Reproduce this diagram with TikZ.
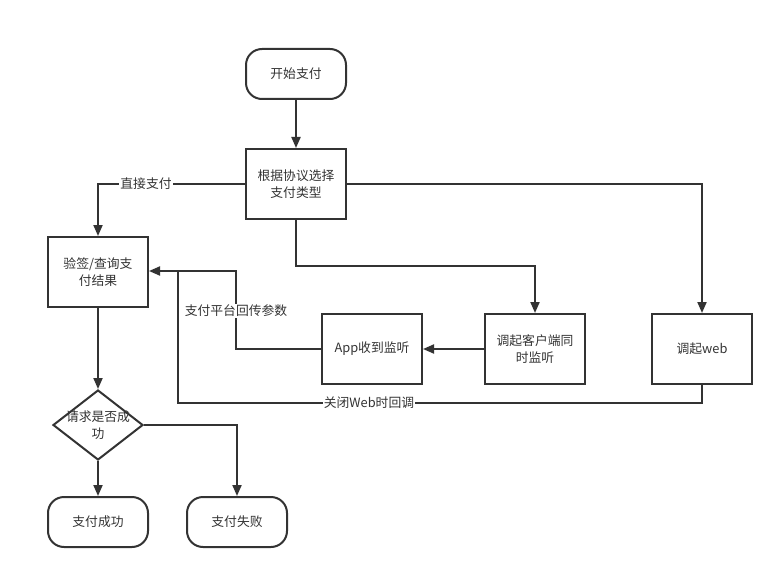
\documentclass[tikz,border=0pt]{standalone}
\usepackage{fontspec}
\setmainfont{Noto Sans CJK SC}
\usetikzlibrary{arrows.meta,shapes.geometric}
\definecolor{ln}{HTML}{333333}
\tikzset{
  box/.style={draw=ln,line width=2pt,minimum width=100pt,minimum height=70pt,align=center,font=\fontsize{12.8pt}{17pt}\selectfont,text=ln},
  term/.style={box,minimum height=50pt,rounded corners=16pt},
  dia/.style={draw=ln,line width=2pt,diamond,aspect=1.2857,minimum width=90pt,minimum height=70pt,inner sep=0pt},
  diatext/.style={align=center,font=\fontsize{12.8pt}{17pt}\selectfont,text=ln,inner sep=0pt},
  conn/.style={draw=ln,line width=2pt,-{Triangle[length=11pt,width=9pt]}},
  lab/.style={fill=white,inner sep=1pt,font=\fontsize{12.8pt}{15pt}\selectfont,text=ln}
}
\begin{document}
\begin{tikzpicture}[x=1pt,y=-1pt]
\useasboundingbox (0,0) rectangle (784,580);
\node[term] (start) at (296,74) {开始支付};
\node[box] (choose) at (296,184) {根据协议选择\\支付类型};
\node[box] (verify) at (98,272) {验签/查询支\\付结果};
\node[box] (client) at (535,349) {调起客户端同\\时监听};
\node[box] (app) at (372,349) {App收到监听};
\node[box] (web) at (702,349) {调起web};
\node[dia] (ok) at (98,425) {};
\node[diatext] (oktext) at (98,425) {请求是否成\\功};
\node[term] (succ) at (98,522) {支付成功};
\node[term] (fail) at (237,522) {支付失败};
\coordinate (c1) at (98,184);
\coordinate (c2) at (296,266);
\coordinate (c3) at (535,266);
\coordinate (c4) at (702,184);
\coordinate (c5) at (236,349);
\coordinate (c6) at (236,271);
\coordinate (c7) at (702,403);
\coordinate (c8) at (178,403);
\coordinate (c9) at (178,271);
\coordinate (c10) at (237,425);
\draw[conn] (start) -- (choose);
\draw[conn] (choose.west) -- (c1) -- (verify.north);
\node[lab] at (146,184) {直接支付};
\draw[conn] (choose.south) -- (c2) -- (c3) -- (client.north);
\draw[conn] (choose.east) -- (c4) -- (web.north);
\draw[conn] (client) -- (app);
\draw[conn] (app.west) -- (c5) -- (c6) -- (verify.east |- c6);
\node[lab] at (236,311) {支付平台回传参数};
\draw[draw=ln,line width=2pt] (web.south) -- (c7) -- (c8) -- (c9);
\node[lab] at (369,403) {关闭Web时回调};
\draw[conn] (verify) -- (ok);
\draw[conn] (ok) -- (succ);
\draw[conn] (ok.east) -- (c10) -- (fail.north);
\end{tikzpicture}
\end{document}
